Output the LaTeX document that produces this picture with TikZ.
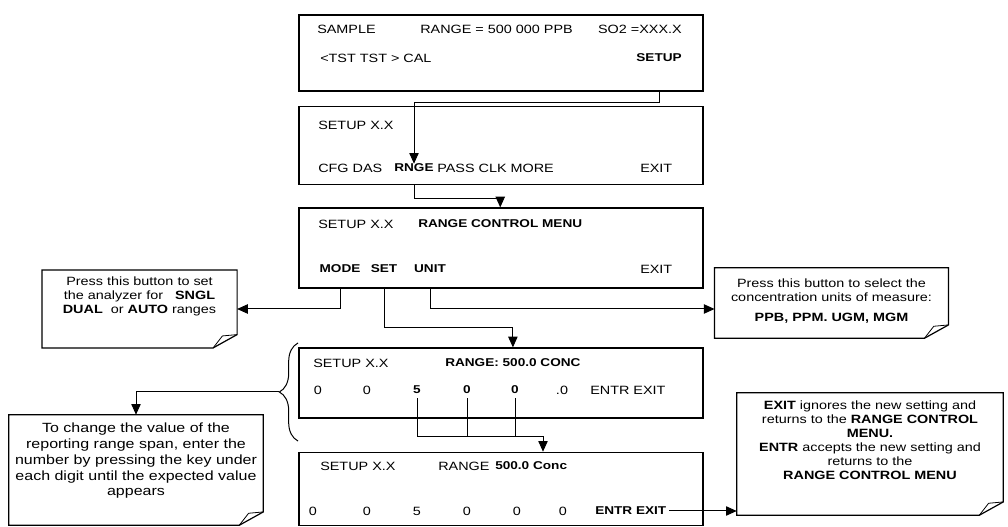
\documentclass[tikz,border=0pt]{standalone}
\usepackage{fontspec}
\setmainfont[FakeStretch=1.2]{Liberation Sans}
\usetikzlibrary{arrows.meta, positioning, decorations.pathreplacing}
\tikzstyle{screen}   = [rectangle, draw=black, line width=0.9pt, minimum width=303pt, inner sep=0pt]
\tikzstyle{lcd}      = [inner sep=0pt, font=\fontsize{9}{11}\selectfont]
\tikzstyle{key}      = [inner sep=0pt, font=\bfseries\fontsize{8.5}{11}\selectfont]
\tikzstyle{note}     = [rectangle, inner sep=0pt]
\tikzstyle{notetext} = [align=center, inner sep=0pt, font=\fontsize{9}{10.5}\selectfont]
\tikzstyle{arrow}    = [-{Triangle[length=8pt,width=7pt]}, line width=0.75pt]
\tikzstyle{link}     = [line width=0.75pt]
% outline of a note with its folded corner
\newcommand{\foldnote}[1]{%
  \draw[line width=0.9pt] (#1.south west) -- (#1.north west) -- (#1.north east)
    -- ([yshift=10pt]#1.south east) -- ([xshift=-18pt]#1.south east) -- cycle;
  \draw[line width=0.6pt] ([xshift=-18pt]#1.south east) -- ([xshift=-11pt,yshift=9pt]#1.south east)
    -- ([yshift=10pt]#1.south east);}

\begin{document}
\begin{tikzpicture}[x=0.75pt, y=-0.75pt]
    \useasboundingbox (0,0) rectangle (1008,527);

    % display screens
    \node (scrA) [screen, minimum height=57pt] at (501,53) {};
    \node (scrB) [screen, minimum height=59pt] at (501,145.5) {};
    \node (scrC) [screen, minimum height=60pt] at (501,248) {};
    \node (scrD) [screen, minimum height=52.5pt] at (501,383) {};
    \node (scrE) [screen, minimum height=55pt] at (501,489) {};

    % screen 1
    \node (sample) [lcd, anchor=west] at (317,29) {SAMPLE};
    \node (rangeA) [lcd, anchor=west] at (420,29) {RANGE = 500 000 PPB};
    \node (gasA) [lcd, anchor=east] at (682,29) {SO2 =XXX.X};
    \node (tstA) [lcd, anchor=west] at (320,58) {<TST TST > CAL};
    \node (setupkey) [key, anchor=east] at (682,58) {SETUP};

    % screen 2
    \node (setupB) [lcd, anchor=west] at (318,125) {SETUP X.X};
    \node (cfgB) [lcd, anchor=west] at (318,168) {CFG DAS};
    \node (rnge) [key] at (414,168) {RNGE};
    \node (passB) [lcd, anchor=west] at (437,168) {PASS CLK MORE};
    \node (exitB) [lcd, anchor=west] at (640,168) {EXIT};

    % screen 3
    \node (setupC) [lcd, anchor=west] at (318,224) {SETUP X.X};
    \node (menu) [key, anchor=west] at (418,224) {RANGE CONTROL MENU};
    \node (mode) [key] at (340,269) {MODE};
    \node (set) [key] at (384,269) {SET};
    \node (unit) [key] at (430,269) {UNIT};
    \node (exitC) [lcd, anchor=west] at (640,269) {EXIT};

    % screen 4
    \node (setupD) [lcd, anchor=west] at (313,363) {SETUP X.X};
    \node (spanD) [key, anchor=west] at (445,363) {RANGE: 500.0 CONC};
    \node (dA1) [lcd] at (318,390) {0};
    \node (dA2) [lcd] at (367,390) {0};
    \node (dA3) [key] at (417,390) {5};
    \node (dA4) [key] at (467,390) {0};
    \node (dA5) [key] at (515,390) {0};
    \node (dA6) [lcd] at (562,390) {.0};
    \node (entrD) [lcd, anchor=west] at (590,390) {ENTR EXIT};

    % screen 5
    \node (setupE) [lcd, anchor=west] at (320,466) {SETUP X.X};
    \node (rangeE) [lcd, anchor=west] at (438,466) {RANGE};
    \node (spanE) [key, anchor=west] at (495,466) {500.0 Conc};
    \node (dB1) [lcd] at (313,511) {0};
    \node (dB2) [lcd] at (367,511) {0};
    \node (dB3) [lcd] at (417,511) {5};
    \node (dB4) [lcd] at (467,511) {0};
    \node (dB5) [lcd] at (517,511) {0};
    \node (dB6) [lcd] at (563,511) {0};
    \node (entrE) [key, anchor=west] at (595,511) {ENTR EXIT};

    % notes
    \node (noteMode) [note, minimum width=146pt, minimum height=58pt] at (139.5,309) {};
    \foldnote{noteMode}
    \node (noteModeTxt) [notetext] at (139.5,296) {Press this button to set\\the analyzer for \ \ \textbf{SNGL}\\\textbf{DUAL} \ or \textbf{AUTO} ranges};

    \node (noteUnit) [note, minimum width=175pt, minimum height=52.5pt] at (831.5,303) {};
    \foldnote{noteUnit}
    \node (noteUnitTxt) [notetext] at (831.5,301) {Press this button to select the\\concentration units of measure:\\[5pt]\textbf{PPB, PPM. UGM, MGM}};

    \node (noteExit) [note, minimum width=199.5pt, minimum height=91.5pt] at (870,454) {};
    \foldnote{noteExit}
    \node (noteExitTxt) [notetext] at (870,440) {\textbf{EXIT} ignores the new setting and\\returns to the \textbf{RANGE CONTROL}\\\textbf{MENU.}\\\textbf{ENTR} accepts the new setting and\\returns to the\\\textbf{RANGE CONTROL MENU}};

    \node (noteSpan) [note, minimum width=190.5pt, minimum height=82.5pt] at (136,470) {};
    \foldnote{noteSpan}
    \node (noteSpanTxt) [notetext, font=\fontsize{10}{11.8}\selectfont] at (136,461) {To change the value of the\\reporting range span, enter the\\number by pressing the key under\\each digit until the expected value\\appears};

    % connectors
    \draw[arrow] (setupkey.south |- scrA.south) -- ++(0,11) -| (rnge.north);
    \draw[arrow] (rnge.south |- scrB.south) -- ++(0,13) -| (menu.north |- scrC.north);
    \draw[arrow] (mode.south |- scrC.south) |- (noteMode.east);
    \draw[arrow] (unit.south |- scrC.south) -- (unit.south |- noteMode.east) -- (noteUnit.west |- noteMode.east);
    \draw[arrow] (set.south |- scrC.south) -- ++(0,39) -| (spanD.north |- scrD.north);

    \coordinate (busD) at (543,437);
    \draw[link] ([yshift=-3pt]dA3.south) -- (dA3 |- busD);
    \draw[link] ([yshift=-3pt]dA4.south) -- (dA4 |- busD);
    \draw[link] ([yshift=-3pt]dA5.south) -- (dA5 |- busD);
    \draw[arrow] (dA3 |- busD) -- (busD) -- (busD |- scrE.north);

    \draw[link, decorate, decoration={brace, amplitude=14pt}] (298,441) -- (298,343);
    \coordinate (bracetip) at (279,392);
    \draw[arrow] (bracetip) -| (noteSpan.north);

    \draw[arrow] ([xshift=2pt]entrE.east) -- (noteExit.west |- entrE.east);
\end{tikzpicture}
\end{document}
